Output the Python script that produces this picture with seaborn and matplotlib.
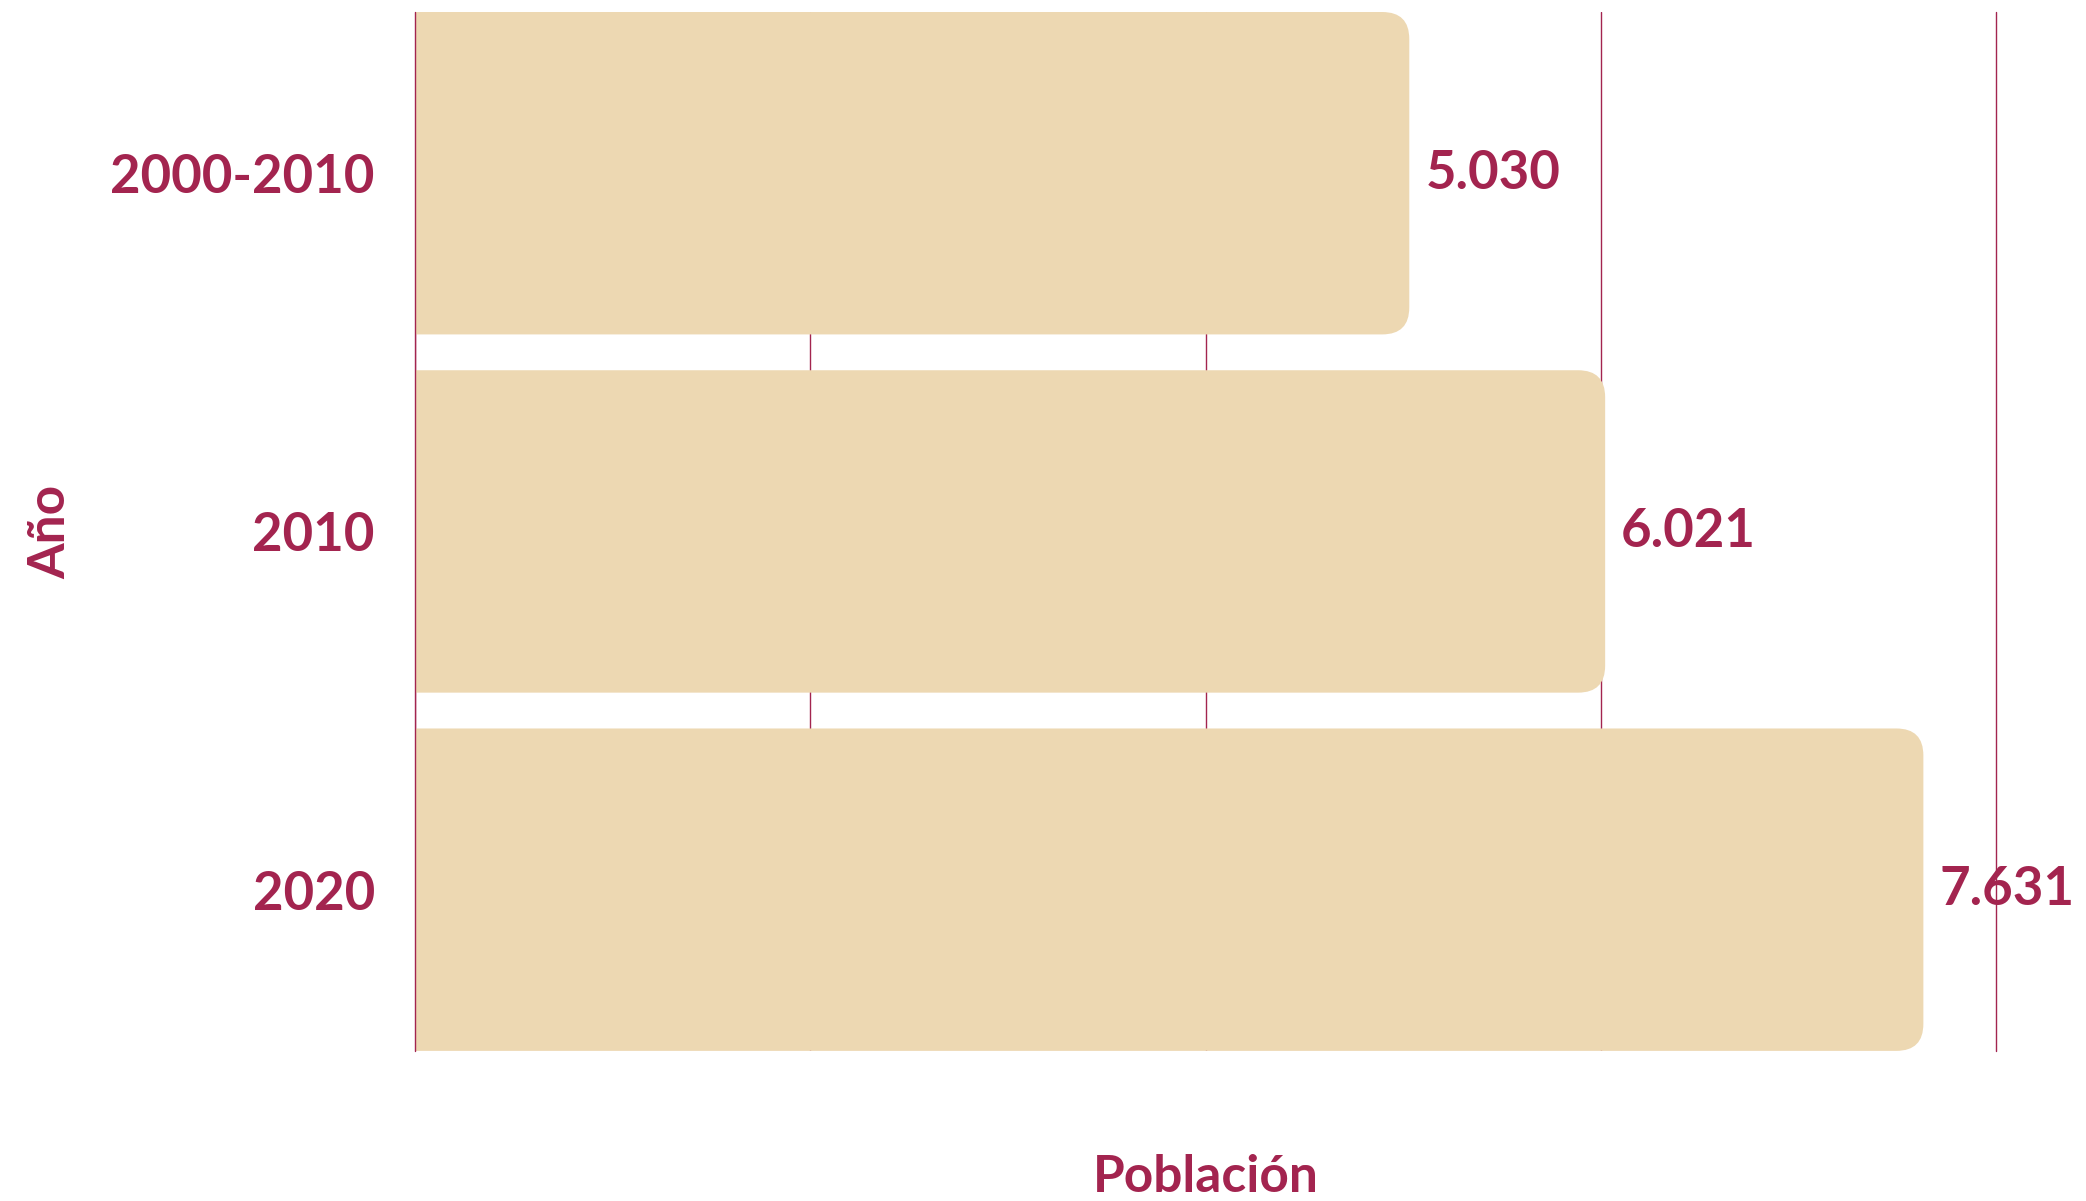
import pandas as pd
import matplotlib.pyplot as plt
import seaborn as sns
from matplotlib.patches import FancyBboxPatch

anios = ['2000-2010', '2010', '2020']
poblacion = [5030, 6021, 7631]
ticks_x = [0, 2000, 4000, 6000, 8000]

granate = '#A3244F'
arena = '#EDD8B2'

sns.set_style("white")
plt.rcParams['font.family'] = ['Lato', 'DejaVu Sans']

df = pd.DataFrame({'Año': anios, 'Población': poblacion})

fig = plt.figure(figsize=(20.86, 12.01), dpi=100)
ax = fig.add_axes([0.199, 0.125, 0.758, 0.865])
sns.barplot(data=df, y='Año', x='Población', color=arena, width=0.9,
            saturation=1, ax=ax, zorder=2)

ax.set_xlim(0, 8000)
ax.set_ylim(2.45, -0.45)

# rounded right corners: swap seaborn rectangles for fancy boxes
px_x = 8000 / (0.758 * 2086)
px_y = 2.9 / (0.865 * 1201)
r = 27 * px_x
for p in list(ax.patches):
    x0, y0 = p.get_x(), p.get_y()
    w, h = p.get_width(), p.get_height()
    box = FancyBboxPatch((x0 - 400, y0), w + 400, h,
                         boxstyle=f"round,pad=0,rounding_size={r}",
                         mutation_aspect=px_y / px_x,
                         facecolor=arena, edgecolor='none', zorder=2)
    p.remove()
    ax.add_patch(box)

for i, v in enumerate(poblacion):
    ax.text(v + 16 * px_x, i, f"{v:,}".replace(",", "."), va='center', ha='left',
            color=granate, fontsize=38, fontweight='bold', zorder=4, clip_on=False)

ax.set_xticks(ticks_x)
ax.set_xticklabels([])
ax.grid(axis='x', color=granate, linewidth=1.0)
ax.grid(axis='y', visible=False)
ax.set_axisbelow(True)
ax.get_xgridlines()[-1].set_clip_on(False)
# zero line sits over the bars' left edge
ax.axvline(0, color=granate, linewidth=1.0, zorder=3, clip_on=False)
ax.tick_params(axis='both', length=0)
ax.tick_params(axis='y', labelsize=38, labelcolor=granate, pad=29)
for lab in ax.get_yticklabels():
    lab.set_fontweight('bold')
for s in ax.spines.values():
    s.set_visible(False)

ax.set_xlabel('Población', fontsize=37, fontweight='bold', color=granate, labelpad=71)
ax.set_ylabel('Año', fontsize=37, fontweight='bold', color=granate, labelpad=26)

plt.savefig('out.png', dpi=100)
plt.close()
